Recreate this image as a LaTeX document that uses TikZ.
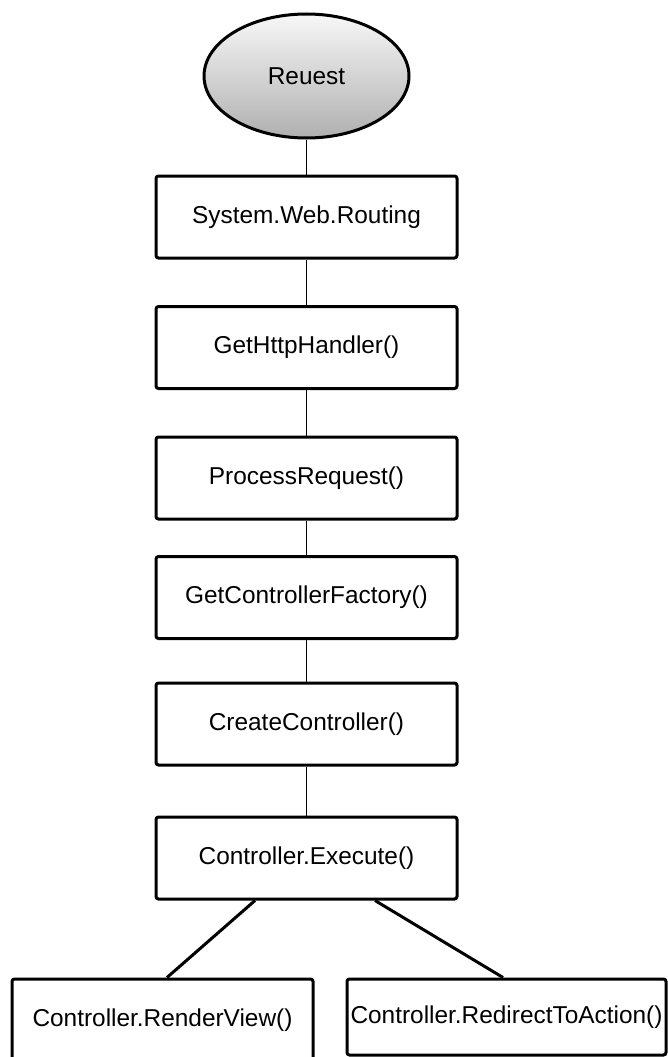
\documentclass[tikz,border=0pt]{standalone}
\usepackage{fontspec}
\setmainfont{Liberation Sans}
\usetikzlibrary{shapes.geometric,calc}

\tikzset{
  stepbox/.style={draw=black, line width=3pt, rounded corners=2.5pt, fill=white,
    minimum width=301pt, minimum height=82pt, inner sep=0pt,
    font=\fontsize{24.4}{28}\selectfont},
  startnode/.style={ellipse, draw=black, line width=3pt,
    top color=gray!6, bottom color=gray!62,
    minimum width=205pt, minimum height=124pt, inner sep=0pt,
    font=\fontsize{24.4}{28}\selectfont},
  thinlink/.style={draw=black, line width=1pt},
  thicklink/.style={draw=black, line width=3pt},
}

\begin{document}
\begin{tikzpicture}[x=1pt,y=-1pt]
  \useasboundingbox[fill=white] (0,0) rectangle (667,1057);

  % entry point
  \node[startnode] (req) at (306.5,76) {Reuest};

  % request pipeline
  \node[stepbox] (routing) at (306.5,217)   {System.Web.Routing};
  \node[stepbox] (handler) at (306.5,347.5) {GetHttpHandler()};
  \node[stepbox] (process) at (306.5,478)   {ProcessRequest()};
  \node[stepbox] (factory) at (306.5,597.5) {GetControllerFactory()};
  \node[stepbox] (create)  at (306.5,724)   {CreateController()};
  \node[stepbox] (exec)    at (306.5,858)   {Controller.Execute()};

  % results
  \node[stepbox] (render)   at (162.5,1020) {Controller.RenderView()};
  \node[stepbox, minimum width=319pt, minimum height=76pt] (redirect) at (506.5,1017)
    {Controller.RedirectToAction()};

  % vertical links
  \draw[thinlink] (req.south) -- (routing.north);
  \draw[thinlink] (routing.south) -- (handler.north);
  \draw[thinlink] (handler.south) -- (process.north);
  \draw[thinlink] (process.south) -- (factory.north);
  \draw[thinlink] (factory.south) -- (create.north);
  \draw[thinlink] (create.south) -- (exec.north);

  % branches
  \draw[thicklink] ($(exec.south)+(-51.5,0)$) -- ($(render.north)+(4.5,0)$);
  \draw[thicklink] ($(exec.south)+(68.5,0)$) -- ($(redirect.north)+(-3.5,0)$);
\end{tikzpicture}
\end{document}
